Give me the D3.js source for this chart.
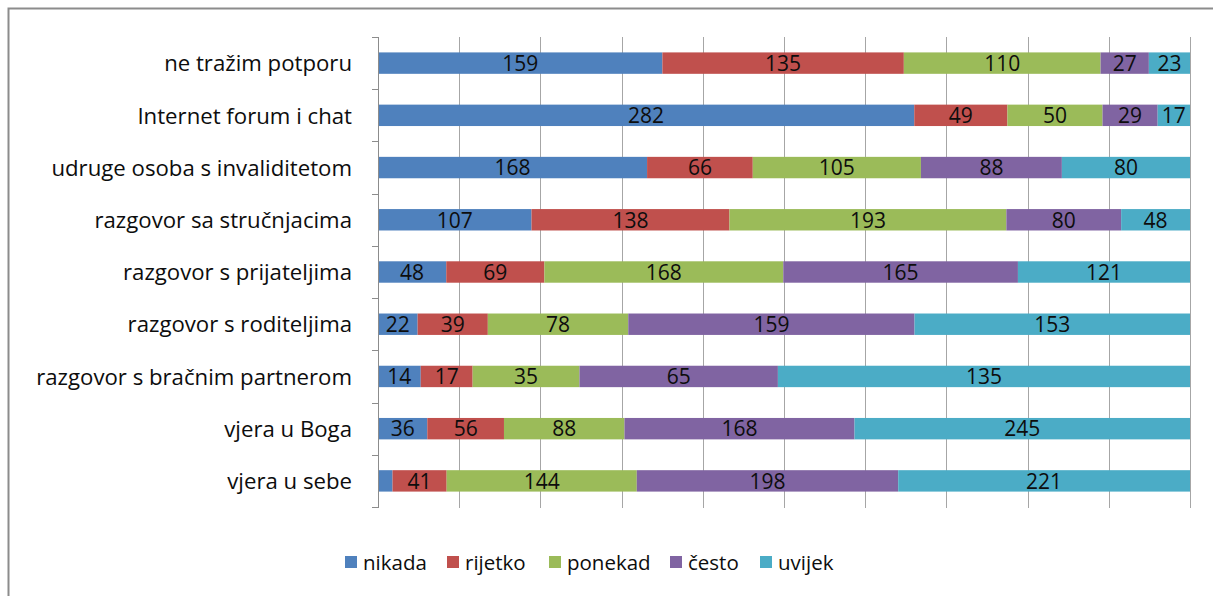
<!DOCTYPE html>
<html>
<head>
<meta charset="utf-8">
<script src="https://cdn.jsdelivr.net/npm/d3@7"></script>
<style>
  html, body { margin: 0; padding: 0; background: #fff; }
  svg { display: block; }
</style>
</head>
<body>
<svg id="chart" width="1213" height="596"></svg>
<script>
const categories = [
  "ne tražim potporu",
  "Internet forum i chat",
  "udruge osoba s invaliditetom",
  "razgovor sa stručnjacima",
  "razgovor s prijateljima",
  "razgovor s roditeljima",
  "razgovor s bračnim partnerom",
  "vjera u Boga",
  "vjera u sebe"
];
const seriesNames = ["nikada", "rijetko", "ponekad", "često", "uvijek"];
const nikada  = [159, 282, 168, 107, 48, 22, 14, 36, 11];
const rijetko = [135, 49, 66, 138, 69, 39, 17, 56, 41];
const ponekad = [110, 50, 105, 193, 168, 78, 35, 88, 144];
const cesto   = [27, 29, 88, 80, 165, 159, 65, 168, 198];
const uvijek  = [23, 17, 80, 48, 121, 153, 135, 245, 221];
const colors  = ["#4F81BD", "#C0504D", "#9BBB59", "#8064A2", "#4BACC6"];
const xTicks  = [0, 0.1, 0.2, 0.3, 0.4, 0.5, 0.6, 0.7, 0.8, 0.9, 1.0];

(function () {
const seriesValues = [nikada, rijetko, ponekad, cesto, uvijek];
const rows = categories.map((c, i) => {
  const r = { cat: c };
  seriesNames.forEach((s, j) => r[s] = seriesValues[j][i]);
  return r;
});

const svg = d3.select("#chart");
const FONT = "'Open Sans', 'Noto Sans', sans-serif";

// outer border (only top/left visible in reference)
svg.append("rect")
  .attr("x", 8.5).attr("y", 8.5).attr("width", 1230).attr("height", 620)
  .attr("fill", "none").attr("stroke", "#8c8c8c").attr("stroke-width", 2);

const pLeft = 378, pRight = 1190, pTop = 37, pBottom = 507;
const x = d3.scaleLinear().domain([0, 1]).range([pLeft, pRight]);
const y = d3.scaleBand().domain(categories).range([pTop, pBottom]).paddingInner(0.59).paddingOuter(0.295);
const yOuter = d3.scaleBand().domain(categories).range([pTop, pBottom]);

const stack = d3.stack().keys(seriesNames).offset(d3.stackOffsetExpand);
const stacked = stack(rows);

// gridlines
svg.append("g").selectAll("line").data(xTicks).join("line")
  .attr("x1", d => Math.round(x(d)) + 0.5).attr("x2", d => Math.round(x(d)) + 0.5)
  .attr("y1", pTop).attr("y2", pBottom + 1)
  .attr("stroke", "#a6a6a6").attr("stroke-width", 1);

// bars
const g = svg.append("g");
stacked.forEach((layer, j) => {
  g.append("g").selectAll("rect").data(layer).join("rect")
    .attr("x", d => x(d[0]))
    .attr("width", d => x(d[1]) - x(d[0]))
    .attr("y", d => y(d.data.cat))
    .attr("height", y.bandwidth())
    .attr("fill", colors[j]);
});

// labels in bars
stacked.forEach((layer, j) => {
  g.append("g").selectAll("text").data(layer.filter(d => x(d[1]) - x(d[0]) > 25)).join("text")
    .attr("x", d => (x(d[0]) + x(d[1])) / 2)
    .attr("y", d => y(d.data.cat) + y.bandwidth() / 2)
    .attr("dy", "0.37em")
    .attr("text-anchor", "middle")
    .attr("font-family", FONT)
    .attr("font-size", 21)
    .attr("fill", "#0d0d0d")
    .text(d => d.data[seriesNames[j]]);
});

// y axis line and ticks
const ax = svg.append("g").attr("stroke", "#8c8c8c").attr("stroke-width", 1);
ax.append("line").attr("x1", pLeft + 0.5).attr("x2", pLeft + 0.5).attr("y1", pTop).attr("y2", pBottom + 1);
const bounds = categories.map(c => yOuter(c)).concat([pBottom]);
ax.selectAll("line.t").data(bounds).join("line").attr("class", "t")
  .attr("x1", pLeft - 6).attr("x2", pLeft + 0.5)
  .attr("y1", d => Math.round(d) + 0.5).attr("y2", d => Math.round(d) + 0.5);

// category labels
svg.append("g").selectAll("text").data(categories).join("text")
  .attr("x", 352)
  .attr("y", d => yOuter(d) + yOuter.bandwidth() / 2)
  .attr("dy", "0.37em")
  .attr("text-anchor", "end")
  .attr("font-family", FONT)
  .attr("font-size", 22.2)
  .attr("fill", "#0d0d0d")
  .text(d => d);

// legend
const legendX = [345, 447, 549, 670, 760];
const lg = svg.append("g");
seriesNames.forEach((s, j) => {
  lg.append("rect").attr("x", legendX[j]).attr("y", 556).attr("width", 12).attr("height", 12).attr("fill", colors[j]);
  lg.append("text").attr("x", legendX[j] + 18).attr("y", 562).attr("dy", "0.37em")
    .attr("font-family", FONT).attr("font-size", 20.5).attr("fill", "#0d0d0d").text(s);
});
})();
</script>
</body>
</html>
